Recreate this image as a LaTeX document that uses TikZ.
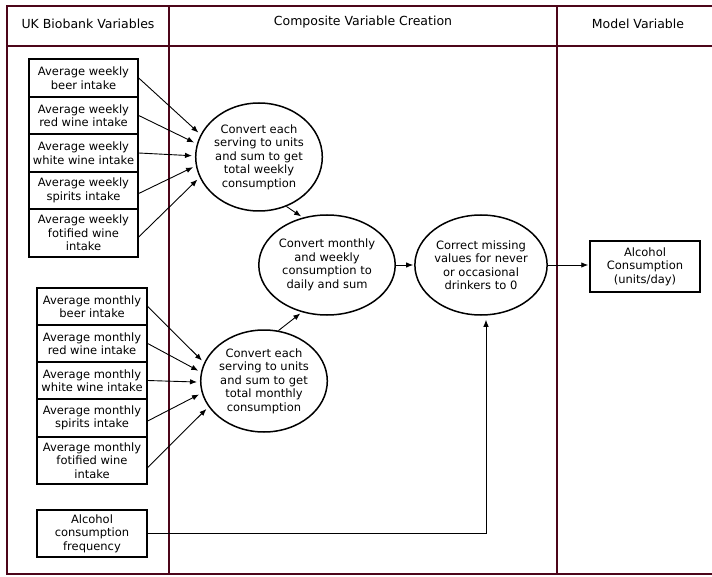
\documentclass[tikz,border=0pt]{standalone}
\usepackage{fontspec}
\setmainfont{DejaVu Sans}
\usetikzlibrary{shapes.geometric,arrows.meta}
\definecolor{frame}{HTML}{4C0519}
\tikzset{
  varbox/.style={draw=black,line width=1.4pt,rectangle,inner sep=0pt,align=center,
    font=\fontsize{11.5}{13.5}\selectfont},
  proc/.style={draw=black,line width=1.5pt,ellipse,inner sep=0pt,align=center,
    font=\fontsize{11.5}{13.5}\selectfont},
  arr/.style={-{Latex[length=7pt,width=5.5pt]},line width=0.9pt,shorten >=3pt},
  framel/.style={draw=frame,line width=2pt},
  head/.style={font=\fontsize{12.5}{15}\selectfont,inner sep=0pt}
}
\begin{document}
\begin{tikzpicture}[x=1pt,y=-1pt]
\useasboundingbox (0,0) rectangle (712,577);
% frame
\draw[framel] (715,6) -- (7,6) -- (7,574) -- (715,574);
\draw[framel] (7,46) -- (715,46);
\draw[framel] (169,6) -- (169,574);
\draw[framel] (557,6) -- (557,574);
\node[head] (h1) at (88,24) {UK Biobank Variables};
\node[head] (h2) at (363,22) {Composite Variable Creation};
\node[head] (h3) at (638,24) {Model Variable};
% weekly boxes
\node[varbox,minimum width=109pt,minimum height=38pt] (w1) at (83.5,78) {Average weekly\\beer intake};
\node[varbox,minimum width=109pt,minimum height=37pt] (w2) at (83.5,115.5) {Average weekly\\red wine intake};
\node[varbox,minimum width=109pt,minimum height=38pt] (w3) at (83.5,153) {Average weekly\\white wine intake};
\node[varbox,minimum width=109pt,minimum height=37pt] (w4) at (83.5,190.5) {Average weekly\\spirits intake};
\node[varbox,minimum width=109pt,minimum height=48pt] (w5) at (83.5,233) {Average weekly\\fotified wine\\intake};
% monthly boxes
\node[varbox,minimum width=110pt,minimum height=37pt] (m1) at (92,306.5) {Average monthly\\beer intake};
\node[varbox,minimum width=110pt,minimum height=37pt] (m2) at (92,343.5) {Average monthly\\red wine intake};
\node[varbox,minimum width=110pt,minimum height=37pt] (m3) at (92,380.5) {Average monthly\\white wine intake};
\node[varbox,minimum width=110pt,minimum height=38pt] (m4) at (92,418) {Average monthly\\spirits intake};
\node[varbox,minimum width=110pt,minimum height=47pt] (m5) at (92,460.5) {Average monthly\\fotified wine\\intake};
% frequency
\node[varbox,minimum width=110pt,minimum height=47pt] (fq) at (92,533.5) {Alcohol\\consumption\\frequency};
% ellipses
\node[proc,minimum width=118pt,minimum height=108pt] (we) at (259,157) {Convert each\\serving to units\\and sum to get\\total weekly\\consumption};
\node[proc,minimum width=116pt,minimum height=102pt] (me) at (264,381) {Convert each\\serving to units\\and sum to get\\total monthly\\consumption};
\node[proc,minimum width=118pt,minimum height=100pt] (md) at (327,265) {Convert monthly\\and weekly\\consumption to\\daily and sum};
\node[proc,minimum width=118pt,minimum height=100pt] (co) at (481,265) {Correct missing\\values for never\\or occasional\\drinkers to 0};
% output
\node[varbox,line width=1.5pt,minimum width=110pt,minimum height=51pt] (out) at (645,266.5) {Alcohol\\Consumption\\(units/day)};
% arrows weekly
\draw[arr] (w1.east) -- (we.159);
\draw[arr] (w2.east) -- (we.168);
\draw[arr] (w3.east) -- (we.179);
\draw[arr] ([yshift=-3pt]w4.east) -- (we.188);
\draw[arr] ([yshift=-4pt]w5.east) -- (we.199);
% arrows monthly
\draw[arr] (m1.east) -- (me.163);
\draw[arr] (m2.east) -- (me.172);
\draw[arr] (m3.east) -- (me.181);
\draw[arr] ([yshift=-3pt]m4.east) -- (me.191);
\draw[arr] ([yshift=-7pt]m5.east) -- (me.205);
% composite
\draw[arr,shorten >=2pt] (we.299) -- (md.117);
\draw[arr,shorten >=2pt] (me.74) -- (md.242);
\draw[arr,shorten >=1pt] (md.east) -- (co.west);
\draw[arr,shorten >=1pt] (co.east) -- (co.east -| out.west);
\draw[arr,shorten >=4pt] (fq.east) -| ([xshift=5pt]co.south);
\end{tikzpicture}
\end{document}
